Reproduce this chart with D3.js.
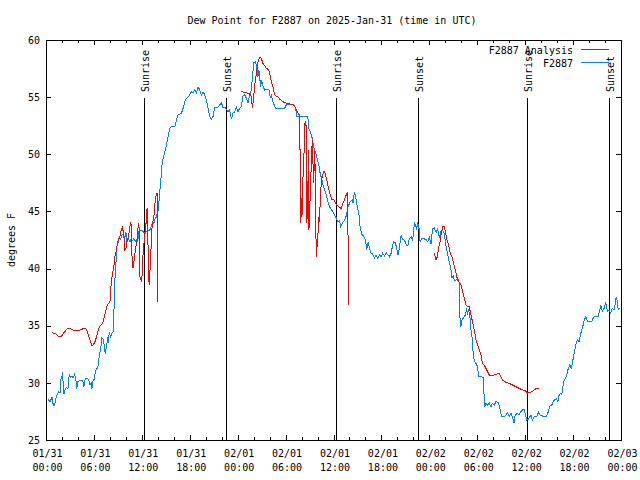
<!DOCTYPE html>
<html><head><meta charset="utf-8">
<script src="https://cdn.jsdelivr.net/npm/d3@7"></script>
<style>
body{margin:0;background:#fff}
svg{display:block}
text{font-family:"DejaVu Sans Mono",monospace;font-size:10px;fill:#000}
</style>
</head><body>
<svg id="chart" width="640" height="480"></svg>
<script>
// ---------------- DATA ----------------
const chartTitle = "Dew Point for F2887 on 2025-Jan-31 (time in UTC)";
const yAxisLabel = "degrees F";
const startTime = Date.UTC(2025, 0, 31, 0, 0, 0);
const endTime = Date.UTC(2025, 1, 3, 0, 0, 0);
const yTickValues = [25, 30, 35, 40, 45, 50, 55, 60];
const seriesNames = ["F2887 Analysis", "F2887"];

// sunrise / sunset markers (hours after 01/31 00:00 UTC)
const sunHours = [12.29, 22.54, 36.29, 46.54, 60.29, 70.54];
const sunLabels = ["Sunrise", "Sunset", "Sunrise", "Sunset", "Sunrise", "Sunset"];

// observations F2887 (hours after start, deg F)
const obsHours = [
0.25,0.5,0.75,0.91,1.09,1.25,1.41,1.59,1.75,1.84,
2.0,2.09,2.16,2.25,2.41,2.59,2.75,2.84,2.91,3.09,
3.25,3.41,3.59,3.75,3.84,4.0,4.25,4.59,4.75,4.91,
5.09,5.34,5.5,5.66,5.75,5.91,6.09,6.16,6.41,6.59,
6.66,6.84,7.0,7.16,7.34,7.41,7.59,7.75,7.84,7.91,
8.09,8.25,8.41,8.5,8.59,8.63,8.84,8.91,9.09,9.16,
9.34,9.5,9.66,9.84,9.91,10.0,10.09,10.16,10.34,10.5,
10.66,10.84,11.0,11.16,11.34,11.5,11.59,11.75,12.09,12.25,
12.41,12.59,12.84,13.0,13.16,13.34,13.5,13.66,13.84,13.91,
14.09,14.16,14.38,14.5,14.66,14.88,15.09,15.29,15.5,15.71,
16.13,16.34,16.54,16.96,17.16,17.38,17.59,17.91,18.21,18.41,
18.63,18.84,19.04,19.25,19.46,19.66,19.88,20.09,20.29,20.5,
20.71,20.91,21.13,21.54,21.96,22.16,22.38,22.59,22.79,23.0,
23.21,23.41,23.63,23.84,24.04,24.25,24.46,24.66,24.88,25.09,
25.29,25.5,25.71,25.91,26.04,26.25,26.41,26.54,26.66,26.88,
27.0,27.16,27.38,27.59,27.91,28.09,28.21,28.41,28.63,28.75,
29.88,30.09,30.5,31.0,31.25,31.41,32.79,32.88,33.09,33.34,
33.5,33.63,33.84,33.91,34.04,34.16,34.34,34.5,34.66,34.88,
35.09,35.29,35.59,35.91,36.13,36.34,36.54,36.75,36.91,37.09,
37.38,37.59,37.79,38.09,38.34,38.44,38.5,38.66,38.84,39.04,
39.25,39.34,39.59,39.75,40.0,40.16,40.34,40.5,40.71,40.91,
41.13,41.34,41.54,41.75,41.96,42.16,42.38,42.59,43.0,43.21,
43.5,43.75,43.91,44.09,44.25,44.46,44.66,44.88,45.09,45.29,
45.5,45.71,45.91,46.13,46.34,46.41,46.54,46.75,46.84,47.09,
47.59,47.79,48.0,48.21,48.41,48.63,48.84,49.04,49.25,49.46,
49.66,49.88,50.09,50.29,50.5,50.71,50.84,51.0,51.13,51.34,
51.54,51.75,51.84,51.96,52.09,52.25,52.5,52.66,52.79,52.91,
53.09,53.21,53.34,53.41,53.5,53.66,53.84,54.04,54.16,54.46,
54.75,54.88,54.91,55.09,55.29,55.5,55.71,55.91,56.13,56.34,
56.66,56.96,57.09,57.38,57.59,57.79,58.0,58.21,58.41,58.63,
58.75,59.04,59.25,59.46,59.66,59.88,60.09,60.16,60.41,60.71,
60.91,61.13,61.54,61.66,61.84,62.16,62.66,62.91,63.09,63.34,
63.5,63.66,63.91,64.09,64.25,64.46,64.59,64.75,64.91,65.16,
65.34,65.59,65.75,65.91,66.09,66.34,66.54,66.75,66.96,67.16,
67.41,67.59,67.84,68.34,68.5,68.75,69.16,69.34,69.46,69.66,
69.88,70.09,70.21,70.29,70.5,70.71,70.91,71.13,71.25,71.41,
71.54,71.66,71.84
];
const obsValues = [
28.59,28.35,28.74,28.06,28.06,28.65,29.03,29.23,29.09,30.31,
30.54,30.92,29.66,29.03,29.44,29.61,29.46,30.25,30.69,30.49,
30.6,30.45,30.75,30.25,29.44,30.1,30.25,30.19,29.66,30.31,
30.4,30.31,29.87,29.96,29.46,30.25,30.31,30.98,31.27,31.65,
32.44,32.88,33.9,33.81,33.16,32.53,33.31,33.99,33.46,34.48,
34.04,34.34,34.48,36.03,38.13,39.0,41.34,42.21,42.35,42.79,
42.56,42.94,43.03,42.65,42.85,43.23,42.79,42.35,42.56,42.35,
42.56,42.44,42.65,42.35,42.5,42.35,43.23,43.31,43.31,43.14,
43.09,43.23,43.31,43.38,43.66,43.96,43.96,44.4,44.49,44.84,
45.13,46.0,47.75,48.91,49.65,50.23,50.81,51.54,52.27,52.41,
52.41,53.0,53.44,53.59,54.02,54.6,54.9,55.1,55.48,55.34,
55.63,55.34,55.91,55.63,55.19,55.48,55.19,54.75,54.02,53.29,
53.06,53.29,54.11,54.11,54.51,54.11,54.11,53.94,53.73,53.88,
53.06,53.59,53.73,54.11,53.73,54.02,54.16,55.1,55.19,54.9,
54.51,55.19,55.63,57.2,58.03,58.08,57.52,56.79,57.38,55.91,
56.5,55.97,55.63,55.69,55.69,54.9,55.19,54.6,54.22,54.02,
54.02,54.31,54.4,54.36,54.02,53.29,53.29,52.27,51.98,51.4,
50.66,50.38,49.94,49.79,49.35,49.06,48.28,47.9,47.4,46.88,
46.44,45.85,45.3,44.98,44.69,44.43,44.1,44.21,43.66,43.94,
44.25,44.6,45.34,45.85,46.0,45.71,46.29,46.66,46.0,45.21,
44.51,43.52,42.94,42.85,42.5,41.63,42.35,41.77,41.34,41.28,
40.9,41.19,40.9,41.19,41.04,41.34,41.1,41.39,41.04,41.34,
42.35,42.26,41.77,41.19,41.84,42.89,42.54,42.5,42.11,41.98,
42.59,42.79,42.41,43.99,43.66,43.38,44.03,43.38,42.35,42.63,
42.56,42.35,42.72,42.15,43.48,43.55,43.16,43.48,42.72,43.23,
43.38,43.03,41.98,41.28,40.58,39.88,39.15,39.35,38.94,39.0,
39.15,38.78,35.65,34.91,35.5,35.65,35.94,36.38,36.09,36.46,
35.67,34.63,34.04,33.46,32.44,31.85,31.71,31.41,30.54,30.54,
30.49,28.5,27.86,28.21,28.06,28.26,27.91,28.21,28.06,28.35,
28.26,27.34,27.04,27.04,27.19,27.39,27.04,27.34,27.04,26.46,
27.19,27.34,27.19,27.48,27.63,27.63,27.04,26.75,26.81,27.19,
26.75,27.06,27.1,27.48,27.19,27.1,27.1,27.48,27.98,28.06,
28.35,28.5,28.59,28.35,28.94,29.09,28.94,29.81,30.25,30.54,
31.13,31.56,31.27,31.71,32.44,33.31,33.75,33.6,34.34,34.77,
35.5,35.79,35.35,35.35,35.65,35.85,35.85,36.38,36.81,36.23,
36.52,37.01,36.66,36.23,36.38,36.09,36.52,36.38,36.81,37.54,
37.1,36.38,36.52
];

// analysis F2887 Analysis (null = gap)
const anaHours = [
0.75,1.25,1.54,1.96,2.25,2.59,2.91,3.21,3.63,4.04,
4.46,4.88,5.09,5.29,5.5,5.71,5.91,6.13,6.34,6.54,
6.75,7.09,7.25,7.41,7.59,7.79,8.0,8.09,8.16,8.29,
8.5,8.63,8.75,8.91,9.04,9.16,9.25,9.38,9.5,9.59,
9.66,9.75,9.84,10.0,10.16,10.34,10.5,10.59,10.71,10.79,
10.91,11.09,11.25,11.41,11.5,11.59,11.66,11.75,11.84,11.96,
12.09,12.16,12.29,12.38,12.5,12.59,12.66,12.75,12.84,12.91,
13.0,13.13,13.25,13.41,13.59,13.66,13.84,13.91,13.92,
14.0,
24.44,25.09,25.5,25.71,25.84,26.0,26.16,26.34,26.54,26.75,
26.96,27.16,27.38,27.59,27.79,28.0,28.09,28.21,28.41,28.63,
28.84,29.04,29.25,29.66,30.09,30.5,30.91,31.13,31.34,31.54,
31.75,31.84,31.91,32.0,32.09,32.16,32.25,32.38,32.44,32.59,
32.66,32.79,32.84,32.91,33.0,33.09,33.21,33.34,33.41,33.5,
33.66,33.84,33.91,34.04,34.16,34.25,34.34,34.46,34.59,34.75,
34.91,35.0,35.16,35.34,35.5,35.66,35.84,36.0,36.16,36.34,
36.54,36.75,36.96,37.16,37.38,37.59,37.75,37.84,37.91,
38.0,
48.63,48.84,49.0,49.16,49.34,49.5,49.66,49.88,50.0,50.16,
50.41,50.63,50.84,51.0,51.16,51.34,51.54,51.84,52.0,52.16,
52.38,52.59,52.79,53.0,53.21,53.41,53.63,53.84,54.04,54.25,
54.46,54.66,54.88,55.09,55.29,55.5,55.71,56.13,56.54,56.75,
56.96,57.16,57.59,58.0,58.41,58.84,59.25,59.66,60.0,60.29,
60.5,60.84,61.13,61.41,61.75
];
const anaValues = [
34.39,34.28,34.1,34.1,34.39,34.69,34.77,34.69,34.56,34.56,
34.69,34.77,34.69,34.19,33.81,33.31,33.31,33.6,34.04,34.63,
34.98,35.21,35.65,36.09,36.61,36.96,37.01,37.84,38.71,39.44,
40.16,41.04,41.34,42.06,42.5,42.65,42.79,43.23,43.52,43.66,
43.23,42.94,41.63,41.69,42.5,42.79,43.66,43.96,43.81,40.31,
40.02,41.04,41.91,42.5,43.38,43.96,43.52,39.29,39.15,38.85,
39.88,41.48,42.35,43.09,43.66,44.69,45.27,42.79,40.16,38.56,
39.59,41.34,43.38,44.25,44.98,45.85,46.59,46.59,37.1,
null,
55.49,55.39,55.28,55.04,54.02,54.97,56.21,57.03,58.08,58.49,
58.4,57.96,57.77,57.52,57.44,57.24,56.74,56.35,55.91,55.23,
55.1,55.04,54.84,54.6,54.46,54.4,54.31,54.18,53.92,53.66,
53.39,48.77,43.99,46.15,44.69,47.6,49.21,51.25,52.91,52.41,
43.99,46.0,50.38,43.38,43.96,46.88,48.91,51.25,49.79,47.46,
50.38,41.04,41.63,42.79,44.54,44.1,46.0,47.46,48.04,48.48,
48.48,48.19,47.75,47.16,46.73,46.29,46.0,46.06,45.85,45.65,
45.48,45.36,45.27,45.65,46.06,46.44,46.64,41.77,36.81,
null,
41.34,40.75,41.04,41.77,42.35,43.09,43.66,43.66,43.23,42.65,
42.06,41.34,41.04,40.6,40.16,39.59,39.0,38.71,38.56,37.98,
37.4,36.81,36.66,36.66,35.94,35.35,34.63,33.75,33.31,32.88,
32.44,31.71,31.56,31.27,30.98,30.69,30.6,30.69,30.78,30.78,
30.54,30.25,30.05,29.96,29.81,29.66,29.52,29.38,29.31,29.14,
29.14,29.23,29.38,29.52,29.52
];

const seriesColors = ["#ff0000", "#0080ff"];

// ---------------- DRAW ----------------
const svg = d3.select("#chart");
const L = 46, R = 621, T = 40, B = 440;
const toDate = h => new Date(startTime + h * 3600e3);

const x = d3.scaleUtc().domain([new Date(startTime), new Date(endTime)]).range([L, R]);
const y = d3.scaleLinear().domain([25, 60]).range([B, T]);

const majorTicks = d3.utcHour.every(6).range(new Date(startTime), new Date(endTime + 1));
const minorTicks = d3.utcHour.every(2).range(new Date(startTime), new Date(endTime + 1))
  .filter(d => d.getUTCHours() % 6 !== 0);

function styleAxis(g) {
  g.select(".domain").remove();
  g.selectAll("line").attr("stroke", "#000").attr("shape-rendering", "crispEdges");
  g.attr("font-family", null).attr("font-size", null);
}

// minor ticks bottom/top
svg.append("g").attr("transform", `translate(0,${B})`)
  .call(d3.axisBottom(x).tickValues(minorTicks).tickSize(-3).tickFormat(""))
  .call(styleAxis);
svg.append("g").attr("transform", `translate(0,${T})`)
  .call(d3.axisTop(x).tickValues(minorTicks).tickSize(-3).tickFormat(""))
  .call(styleAxis);
// major ticks top
svg.append("g").attr("transform", `translate(0,${T})`)
  .call(d3.axisTop(x).tickValues(majorTicks).tickSize(-5).tickFormat(""))
  .call(styleAxis);
// major ticks bottom with labels
const fmtDay = d3.utcFormat("%m/%d"), fmtTime = d3.utcFormat("%H:%M");
const gx = svg.append("g").attr("transform", `translate(0,${B})`)
  .call(d3.axisBottom(x).tickValues(majorTicks).tickSize(-5).tickFormat(""))
  .call(styleAxis);
gx.selectAll(".tick").each(function(d) {
  const t = d3.select(this).append("text").attr("text-anchor", "middle").attr("fill", "#000");
  t.append("tspan").attr("x", 1).attr("y", 17).text(fmtDay(d));
  t.append("tspan").attr("x", 1).attr("y", 31).text(fmtTime(d));
});

// y axes
svg.append("g").attr("transform", `translate(${L},0)`)
  .call(d3.axisLeft(y).tickValues(yTickValues).tickSize(-5).tickPadding(6))
  .call(styleAxis);
svg.append("g").attr("transform", `translate(${R},0)`)
  .call(d3.axisRight(y).tickValues(yTickValues).tickSize(-5).tickFormat(""))
  .call(styleAxis);

// frame
svg.append("rect").attr("x", L + 0.5).attr("y", T + 0.5)
  .attr("width", R - L).attr("height", B - T)
  .attr("fill", "none").attr("stroke", "#000").attr("shape-rendering", "crispEdges");

// clip
svg.append("clipPath").attr("id", "plotclip").append("rect")
  .attr("x", L).attr("y", T).attr("width", R - L + 1).attr("height", B - T + 1);

// sunrise / sunset lines
const sunG = svg.append("g");
sunHours.forEach((h, i) => {
  const sx = Math.round(x(toDate(h))) + 0.5;
  sunG.append("line").attr("x1", sx).attr("x2", sx)
    .attr("y1", y(54.9)).attr("y2", B)
    .attr("stroke", "#000").attr("stroke-width", 1)
    .attr("shape-rendering", "crispEdges");
  sunG.append("text")
    .attr("transform", `translate(${sx + 4},92) rotate(-90)`)
    .attr("text-anchor", "start").text(sunLabels[i]);
});

// series
const obs = obsHours.map((h, i) => ({t: toDate(h), v: obsValues[i]}));
const ana = anaHours.map((h, i) => ({t: toDate(h), v: anaValues[i]}));
const line = d3.line().defined(d => d.v != null).x(d => x(d.t)).y(d => y(d.v));

const plot = svg.append("g").attr("clip-path", "url(#plotclip)");
plot.append("path").datum(obs).attr("d", line)
  .attr("fill", "none").attr("stroke", seriesColors[1]).attr("stroke-width", 1)
  .attr("shape-rendering", "crispEdges");
plot.append("path").datum(ana).attr("d", line)
  .attr("fill", "none").attr("stroke", seriesColors[0]).attr("stroke-width", 1)
  .attr("shape-rendering", "crispEdges");

// legend
const legY = [50, 63];
seriesNames.forEach((name, i) => {
  svg.append("text").attr("x", 573).attr("y", legY[i] + 3.5)
    .attr("text-anchor", "end").text(name);
  svg.append("line").attr("x1", 581).attr("x2", 609)
    .attr("y1", legY[i] - 0.5).attr("y2", legY[i] - 0.5)
    .attr("stroke", seriesColors[i]).attr("stroke-width", 1)
    .attr("shape-rendering", "crispEdges");
});

// title and y label
svg.append("text").attr("x", 332).attr("y", 23.5).attr("text-anchor", "middle").text(chartTitle);
svg.append("text").attr("transform", "translate(15,240) rotate(-90)")
  .attr("text-anchor", "middle").text(yAxisLabel);
</script>
</body></html>
